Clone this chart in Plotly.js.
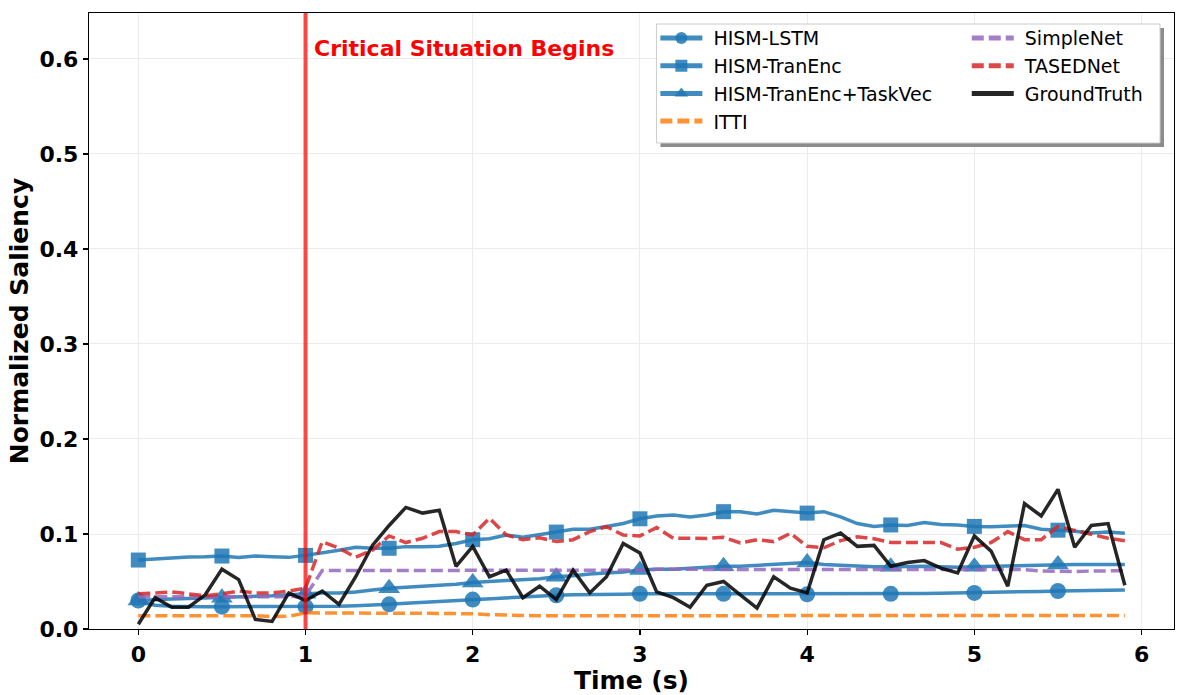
<!DOCTYPE html>
<html>
<head>
<meta charset="utf-8">
<script src="https://cdn.plot.ly/plotly-3.0.1.min.js"></script>
<style>html,body{margin:0;padding:0;background:#fff;}#chart{width:1188px;height:695px;}</style>
</head>
<body>
<div id="chart"></div>
<script>
const time = [0.0,0.1,0.2,0.3,0.4,0.5,0.6,0.7,0.8,0.9,1.0,1.1,1.2,1.3,1.4,1.5,1.6,1.7,1.8,1.9,2.0,2.1,2.2,2.3,2.4,2.5,2.6,2.7,2.8,2.9,3.0,3.1,3.2,3.3,3.4,3.5,3.6,3.7,3.8,3.9,4.0,4.1,4.2,4.3,4.4,4.5,4.6,4.7,4.8,4.9,5.0,5.1,5.2,5.3,5.4,5.5,5.6,5.7,5.8,5.9];

const hismLSTM = [0.030,0.025,0.024,0.0235,0.0235,0.0235,0.0235,0.0235,0.0235,0.0235,0.0235,0.024,0.024,0.0245,0.025,0.026,0.027,0.028,0.029,0.030,0.031,0.032,0.033,0.034,0.035,0.0355,0.036,0.036,0.0365,0.0365,0.037,0.037,0.037,0.037,0.037,0.037,0.037,0.0368,0.0368,0.0366,0.0365,0.0365,0.0366,0.0367,0.0368,0.037,0.0372,0.0374,0.0376,0.0378,0.038,0.0384,0.0388,0.0392,0.0396,0.040,0.0403,0.0406,0.0408,0.041];

const hismTranEnc = [0.0726,0.0737,0.0754,0.0758,0.0761,0.0768,0.0754,0.0768,0.076,0.0754,0.0775,0.080,0.083,0.086,0.085,0.085,0.0867,0.0867,0.087,0.090,0.094,0.095,0.099,0.0965,0.099,0.102,0.105,0.105,0.108,0.111,0.116,0.119,0.120,0.118,0.120,0.1235,0.1235,0.121,0.125,0.1235,0.122,0.1235,0.118,0.111,0.108,0.1095,0.109,0.112,0.110,0.1095,0.108,0.1077,0.108,0.109,0.105,0.104,0.103,0.101,0.102,0.1007];

const hismTaskVec = [0.030,0.031,0.0315,0.032,0.0325,0.033,0.0335,0.034,0.035,0.036,0.037,0.038,0.038,0.039,0.041,0.043,0.044,0.045,0.046,0.047,0.049,0.050,0.051,0.052,0.053,0.055,0.056,0.058,0.059,0.060,0.062,0.063,0.063,0.064,0.065,0.066,0.066,0.067,0.068,0.069,0.070,0.068,0.067,0.066,0.0655,0.0656,0.066,0.066,0.0655,0.065,0.0656,0.066,0.067,0.067,0.0675,0.068,0.068,0.068,0.068,0.068];

const itti = [0.014,0.014,0.014,0.014,0.014,0.014,0.014,0.014,0.013,0.0135,0.017,0.0168,0.0168,0.0166,0.0166,0.0165,0.0165,0.0166,0.0166,0.0164,0.016,0.015,0.0145,0.014,0.014,0.014,0.014,0.014,0.014,0.014,0.014,0.014,0.014,0.014,0.014,0.014,0.014,0.014,0.014,0.014,0.014,0.014,0.014,0.014,0.014,0.014,0.014,0.014,0.014,0.014,0.014,0.014,0.014,0.014,0.014,0.014,0.014,0.0142,0.0142,0.0142];

const simpleNet = [0.034,0.034,0.034,0.034,0.034,0.034,0.034,0.034,0.034,0.034,0.035,0.0615,0.0615,0.0615,0.0615,0.0615,0.0615,0.0615,0.0615,0.0615,0.0615,0.062,0.062,0.062,0.062,0.062,0.062,0.062,0.062,0.062,0.062,0.0628,0.0628,0.0628,0.0628,0.0628,0.0628,0.0628,0.0628,0.0628,0.0628,0.0628,0.0628,0.0628,0.0628,0.0628,0.0628,0.0628,0.0628,0.0628,0.0628,0.0628,0.0628,0.0625,0.061,0.0604,0.0605,0.061,0.061,0.0614];

const tasedNet = [0.037,0.038,0.039,0.037,0.035,0.037,0.040,0.038,0.038,0.040,0.043,0.092,0.085,0.0755,0.083,0.098,0.091,0.0955,0.1025,0.1025,0.099,0.1165,0.099,0.094,0.096,0.092,0.094,0.1025,0.1077,0.099,0.098,0.1067,0.0955,0.0955,0.0953,0.0965,0.0905,0.094,0.092,0.1007,0.087,0.0855,0.093,0.097,0.095,0.091,0.091,0.091,0.091,0.084,0.086,0.091,0.1025,0.094,0.094,0.108,0.104,0.100,0.0955,0.093];

const groundTruth = [0.005,0.033,0.023,0.023,0.036,0.063,0.052,0.010,0.008,0.038,0.030,0.040,0.026,0.055,0.088,0.109,0.128,0.122,0.125,0.066,0.087,0.055,0.062,0.033,0.045,0.031,0.062,0.038,0.055,0.090,0.080,0.039,0.033,0.023,0.046,0.050,0.036,0.022,0.055,0.043,0.038,0.094,0.101,0.087,0.088,0.066,0.070,0.072,0.064,0.059,0.098,0.082,0.045,0.132,0.119,0.147,0.086,0.109,0.111,0.046];

const xTicks = [0,1,2,3,4,5,6];
const yTicks = [0.0,0.1,0.2,0.3,0.4,0.5,0.6];
const criticalTime = 1.0;
const criticalLabel = "Critical Situation Begins";

const FONT = "DejaVu Sans, Liberation Sans, sans-serif";
const blue = "rgba(31,119,180,0.85)";
const NB = "\u00a0";
const markEvery = (sz) => time.map((_, i) => (i % 5 === 0 ? sz : 0));

function modelTrace(name, y, symbol, size, legendName) {
  return {
    x: time, y: y, name: NB + name, type: "scatter", mode: "lines+markers",
    line: {color: blue, width: 3.5},
    marker: {symbol: symbol, size: markEvery(size), color: blue, opacity: 1, line: {width: 0}},
    legend: legendName
  };
}

const traces = [
  modelTrace("HISM-LSTM", hismLSTM, "circle", 16, "legend"),
  modelTrace("HISM-TranEnc", hismTranEnc, "square", 15, "legend"),
  modelTrace("HISM-TranEnc+TaskVec", hismTaskVec, "triangle-up", 19, "legend"),
  {x: time, y: itti, name: NB + "ITTI", type: "scatter", mode: "lines",
   line: {color: "rgba(255,127,14,0.85)", width: 3.5, dash: "12px,5px"}, legend: "legend"},
  {x: time, y: simpleNet, name: NB + "SimpleNet", type: "scatter", mode: "lines",
   line: {color: "rgba(148,103,189,0.85)", width: 3.5, dash: "12px,5px"}, legend: "legend2"},
  {x: time, y: tasedNet, name: NB + "TASEDNet", type: "scatter", mode: "lines",
   line: {color: "rgba(214,39,40,0.85)", width: 3.5, dash: "12px,5px"}, legend: "legend2"},
  {x: time, y: groundTruth, name: NB + "GroundTruth", type: "scatter", mode: "lines",
   line: {color: "rgba(0,0,0,0.85)", width: 3.5}, legend: "legend2"}
];

const legendCommon = {
  bgcolor: "rgba(0,0,0,0)", borderwidth: 0,
  font: {family: FONT, size: 19, color: "#000"},
  xanchor: "left", yanchor: "top", itemsizing: "constant",
  tracegroupgap: 0, itemwidth: 42
};

const layout = {
  width: 1188, height: 695,
  margin: {l: 89, r: 14, t: 13, b: 66},
  paper_bgcolor: "#fff", plot_bgcolor: "#fff",
  font: {family: FONT, color: "#000"},
  showlegend: true,
  legend: Object.assign({}, legendCommon, {x: 0.522, y: 0.99}),
  legend2: Object.assign({}, legendCommon, {x: 0.809, y: 0.99}),
  xaxis: {
    range: [-0.295, 6.194], tickvals: xTicks, ticktext: xTicks.map(String),
    showgrid: true, gridcolor: "#ebebeb", gridwidth: 1, zeroline: false,
    showline: true, linecolor: "#000", linewidth: 1.2, mirror: true,
    ticks: "outside", ticklen: 5, tickwidth: 1.2, tickcolor: "#000",
    tickfont: {family: FONT, size: 22, weight: "bold"},
    title: {text: "Time (s)", font: {family: FONT, size: 25, weight: "bold"}, standoff: 8}
  },
  yaxis: {
    range: [0, 0.6484], tickvals: yTicks, ticktext: yTicks.map(v => v.toFixed(1)),
    showgrid: true, gridcolor: "#ebebeb", gridwidth: 1, zeroline: false,
    showline: true, linecolor: "#000", linewidth: 1.2, mirror: true,
    ticks: "outside", ticklen: 5, tickwidth: 1.2, tickcolor: "#000",
    tickfont: {family: FONT, size: 22, weight: "bold"},
    title: {text: "Normalized Saliency", font: {family: FONT, size: 25, weight: "bold"}, standoff: 3}
  },
  shapes: [
    {type: "line", xref: "x", yref: "paper", x0: criticalTime, x1: criticalTime, y0: 0, y1: 1,
     line: {color: "rgba(255,0,0,0.72)", width: 4}, layer: "above"},
    {type: "rect", xref: "paper", yref: "paper", x0: 0.5267, x1: 0.9908, y0: 0.7825, y1: 0.9756,
     fillcolor: "#8c8c8c", line: {width: 0}, layer: "above"},
    {type: "rect", xref: "paper", yref: "paper", x0: 0.5230, x1: 0.9871, y0: 0.7890, y1: 0.9821,
     fillcolor: "#ffffff", line: {color: "#cccccc", width: 1}, layer: "above"}
  ],
  annotations: [
    {x: 1.04, y: 0.6115, xref: "x", yref: "y", text: criticalLabel, showarrow: false,
     xanchor: "left", yanchor: "middle",
     font: {family: FONT, size: 22, color: "#ff0000", weight: "bold"}}
  ]
};

Plotly.newPlot("chart", traces, layout, {displayModeBar: false, staticPlot: true});
</script>
</body>
</html>
